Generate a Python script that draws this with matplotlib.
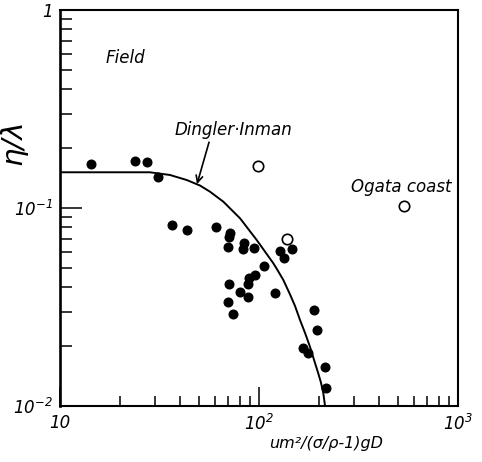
import matplotlib
matplotlib.use("Agg")
import matplotlib.pyplot as plt
from matplotlib.ticker import NullFormatter

plt.rcParams["font.family"] = "DejaVu Sans"
plt.rcParams["font.style"] = "italic"
plt.rcParams["mathtext.fontset"] = "custom"
plt.rcParams["mathtext.rm"] = "DejaVu Sans:italic"
plt.rcParams["mathtext.it"] = "DejaVu Sans:italic"

# field data (filled circles)
field_x = [14.3, 23.7, 27.4, 30.9, 36.5, 43.7, 60.8, 71.5, 70.6, 69.6,
           84.3, 83.4, 94.4, 127.5, 146.5, 134.0, 106.3, 95.5, 89.4, 87.8,
           70.4, 80.3, 88.3, 69.6, 74.2, 120.3, 187.9, 195.0, 167.0, 175.3,
           214.1, 218.3]
field_y = [0.166, 0.173, 0.170, 0.144, 0.0825, 0.077, 0.0804, 0.0747, 0.0714, 0.0637,
           0.0663, 0.0618, 0.063, 0.0607, 0.0618, 0.0561, 0.0509, 0.0459, 0.0445, 0.0415,
           0.0413, 0.0378, 0.0356, 0.0335, 0.029, 0.0371, 0.0306, 0.0242, 0.0196, 0.0186,
           0.0157, 0.0123]

# Ogata coast (open circles)
ogata_x = [98.5, 137.8, 537.0]
ogata_y = [0.1635, 0.070, 0.1023]

# Dingler-Inman curve
curve_x = [10.0, 28.3, 35.7, 43.3, 50.5, 56.7, 66.2, 80.3, 97.4, 118.0,
           124.6, 132.5, 143.2, 151.7, 160.7, 170.3, 180.4, 189.0, 198.6, 204.9,
           210.5, 214.7]
curve_y = [0.1515, 0.1515, 0.1468, 0.1385, 0.1299, 0.1209, 0.1076, 0.0887, 0.0689, 0.0526,
           0.0481, 0.0433, 0.0366, 0.0320, 0.0272, 0.0234, 0.0199, 0.0171, 0.0146, 0.0131,
           0.0116, 0.0100]

xticks = [10, 100, 1000]
xtick_labels = ["10", "$10^{2}$", "$10^{3}$"]
yticks = [0.01, 0.1, 1]
ytick_labels = ["$10^{-2}$", "$10^{-1}$", "1"]

fig = plt.figure(figsize=(4.82, 4.62), dpi=100)
ax = fig.add_axes([60 / 482, 1 - 406 / 462, 398 / 482, 396 / 462])

ax.plot(curve_x, curve_y, color="black", lw=1.4)
ax.plot(field_x, field_y, "o", color="black", ms=6.2, mec="black")
ax.plot(ogata_x, ogata_y, "o", mfc="white", mec="black", ms=7.5, mew=1.2)

ax.set_xscale("log")
ax.set_yscale("log")
ax.set_xlim(10, 1000)
ax.set_ylim(0.01, 1)

ax.set_xticks(xticks, labels=xtick_labels)
ax.set_yticks(yticks, labels=ytick_labels)
ax.xaxis.set_minor_formatter(NullFormatter())
ax.yaxis.set_minor_formatter(NullFormatter())

ax.tick_params(axis="x", which="major", direction="in", length=14, width=1.1,
               labelsize=12, pad=6, top=False)
ax.tick_params(axis="x", which="minor", direction="in", length=7, width=1.1, top=False)
ax.tick_params(axis="y", which="major", direction="in", length=16, width=1.1,
               labelsize=12, pad=5, right=False)
ax.tick_params(axis="y", which="minor", direction="in", length=8.6, width=1.1, right=False)

for side in ["top", "right", "bottom"]:
    ax.spines[side].set_linewidth(1.5)
ax.spines["left"].set_linewidth(1.9)

ax.set_xlabel("um\u00b2/(\u03c3/\u03c1-1)gD", fontsize=11.5)
ax.xaxis.set_label_coords(0.668, -0.075)
ax.set_ylabel("\u03b7/\u03bb", fontsize=21)
ax.yaxis.set_label_coords(-0.082, 0.667)

ax.text(0.163, 0.879, "Field", transform=ax.transAxes, fontsize=12,
        ha="center", va="center")
ax.text(0.435, 0.697, "Dingler\u00b7Inman", transform=ax.transAxes, fontsize=12,
        ha="center", va="center")
ax.text(0.8585, 0.554, "Ogata coast", transform=ax.transAxes, fontsize=12,
        ha="center", va="center")
ax.annotate("", xy=(48.8, 0.132), xytext=(56.1, 0.215),
            arrowprops=dict(arrowstyle="->", color="black", lw=1.2,
                            mutation_scale=12, shrinkA=0, shrinkB=0))

fig.savefig("out.png", dpi=100)
